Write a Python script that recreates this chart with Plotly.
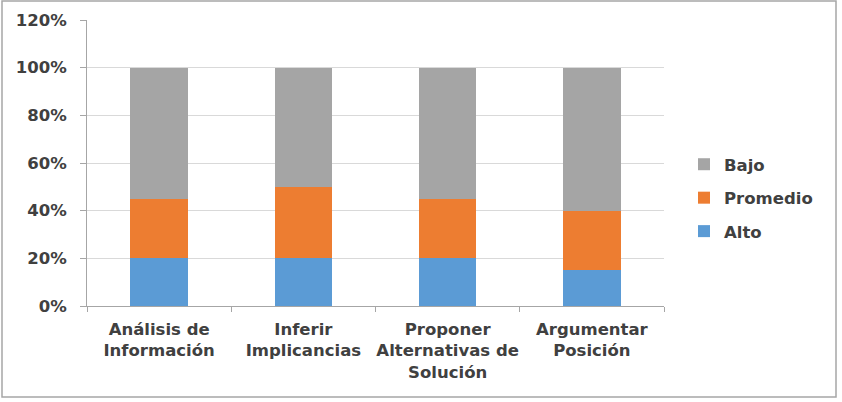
import plotly.graph_objects as go

categories = ["Análisis de<br>Información", "Inferir<br>Implicancias",
              "Proponer<br>Alternativas de<br>Solución", "Argumentar<br>Posición"]
alto = [0.20, 0.20, 0.20, 0.15]
promedio = [0.25, 0.30, 0.25, 0.25]
bajo = [0.55, 0.50, 0.55, 0.60]
y_ticks = [0, 0.2, 0.4, 0.6, 0.8, 1.0, 1.2]

FONT = "DejaVu Sans"
TXT = "#404040"
FS = 16.5

fig = go.Figure()
fig.add_bar(x=categories, y=alto, name="Alto", legendgroup="a", legendrank=3,
            marker_color="#5B9BD5", marker_line_width=0)
fig.add_bar(x=categories, y=promedio, name="Promedio", legendgroup="p", legendrank=2,
            marker_color="#ED7D31", marker_line_width=0)
fig.add_bar(x=categories, y=bajo, name="Bajo", legendgroup="b", legendrank=1,
            marker_color="#A5A5A5", marker_line_width=0)

W, H = 842, 402
ml, mr, mt, mb = 87, 178, 20, 96
pw, ph = W - ml - mr, H - mt - mb

def px(x):
    return (x - ml) / pw

def py(y):
    return (H - mb - y) / ph

fig.update_layout(
    width=W, height=H,
    margin=dict(l=ml, r=mr, t=mt, b=mb, pad=0),
    barmode="stack", bargap=0.6,
    plot_bgcolor="white", paper_bgcolor="white",
    font=dict(family=FONT, size=FS, color=TXT),
    showlegend=True,
    legend=dict(x=px(684), y=py(198), xanchor="left", yanchor="middle",
                traceorder="grouped", font=dict(family=FONT, size=FS, color=TXT, weight="bold"),
                itemwidth=30, tracegroupgap=9),
    xaxis=dict(showline=True, linecolor="#A6A6A6", linewidth=1,
               ticks="outside", tickson="boundaries", ticklen=5, tickcolor="#A6A6A6",
               ticklabelstandoff=8, tickangle=0, automargin=False,
               tickfont=dict(family=FONT, size=FS, color=TXT, weight="bold"),
               showgrid=False),
    yaxis=dict(range=[0, 1.2], tickvals=y_ticks, tickformat=".0%",
               showline=True, linecolor="#A6A6A6", linewidth=1,
               ticks="outside", ticklen=6, tickcolor="#A6A6A6",
               ticklabelstandoff=10, automargin=False,
               showgrid=True, gridcolor="#D9D9D9", gridwidth=1,
               tickfont=dict(family=FONT, size=FS, color=TXT, weight="bold"),
               zeroline=False),
    shapes=[dict(type="rect", xref="paper", yref="paper",
                 x0=px(2), x1=px(836), y0=py(397), y1=py(1),
                 line=dict(color="#A6A6A6", width=1.5), fillcolor="rgba(0,0,0,0)")],
)

fig.write_html("out.html", config={"displayModeBar": False},
               post_script="document.body.style.margin='0';document.body.style.overflow='hidden';")
